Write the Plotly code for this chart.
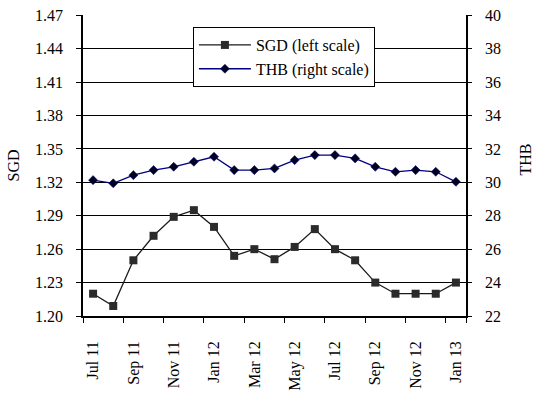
import plotly.graph_objects as go

months = ["Jul 11", "Aug 11", "Sep 11", "Oct 11", "Nov 11", "Dec 11", "Jan 12",
          "Feb 12", "Mar 12", "Apr 12", "May 12", "Jun 12", "Jul 12", "Aug 12",
          "Sep 12", "Oct 12", "Nov 12", "Dec 12", "Jan 13"]
sgd = [1.220, 1.209, 1.250, 1.272, 1.289, 1.295, 1.280, 1.254, 1.260, 1.251,
       1.262, 1.278, 1.260, 1.250, 1.230, 1.220, 1.220, 1.220, 1.230]
thb = [30.13, 29.94, 30.43, 30.73, 30.93, 31.23, 31.53, 30.73, 30.73, 30.83,
       31.33, 31.63, 31.63, 31.43, 30.93, 30.63, 30.73, 30.63, 30.03]
label_months = months[::2]
left_ticks = [1.20, 1.23, 1.26, 1.29, 1.32, 1.35, 1.38, 1.41, 1.44, 1.47]
right_ticks = [22, 24, 26, 28, 30, 32, 34, 36, 38, 40]

FONT = "Liberation Serif"
FS = 16

fig = go.Figure()
fig.add_trace(go.Scatter(
    x=months, y=sgd, name="SGD (left scale)", mode="lines+markers",
    line=dict(color="#1a1a1a", width=1.3),
    marker=dict(symbol="square", size=8, color="#2b2b2b"),
    yaxis="y"))
fig.add_trace(go.Scatter(
    x=months, y=thb, name="THB (right scale)", mode="lines+markers",
    line=dict(color="#000080", width=1.3),
    marker=dict(symbol="diamond", size=7, color="#000020",
                line=dict(color="#000080", width=0.5)),
    yaxis="y2"))

fig.update_layout(
    width=533, height=395,
    margin=dict(l=83, r=67, t=15, b=79, autoexpand=False),
    paper_bgcolor="white", plot_bgcolor="white",
    font=dict(family=FONT, size=FS, color="black"),
    showlegend=True,
    legend=dict(x=0.287, y=0.96, xanchor="left", yanchor="top",
                bgcolor="white", bordercolor="black", borderwidth=1,
                itemwidth=52,
                font=dict(family=FONT, size=FS)),
    xaxis=dict(
        type="category", tickmode="array", tickvals=label_months,
        ticktext=label_months, tickangle=-90, tickson="boundaries",
        ticks="outside", ticklen=5, tickcolor="black", tickwidth=1.3,
        showline=True, linecolor="black", linewidth=1.8,
        showgrid=False, zeroline=False, automargin=False,
        ticklabelstandoff=17, ticklabeloverflow="allow",
        range=[-0.5, len(months) - 0.5],
        tickfont=dict(family=FONT, size=FS)),
    yaxis=dict(
        range=[1.20, 1.4702], tickvals=left_ticks,
        ticktext=[f"{v:.2f}" for v in left_ticks],
        ticks="outside", ticklen=5, tickcolor="black",
        showline=True, linecolor="black", linewidth=1.8,
        showgrid=True, gridcolor="black", gridwidth=1.3, zeroline=False,
        automargin=False, ticklabelstandoff=10, ticklabeloverflow="allow",
        title=dict(text="SGD", standoff=11, font=dict(family=FONT, size=FS)),
        tickfont=dict(family=FONT, size=FS)),
    yaxis2=dict(
        range=[22, 40.013], tickvals=right_ticks, overlaying="y", side="right",
        ticks="outside", ticklen=4, tickcolor="black",
        showline=True, linecolor="black", linewidth=1.8,
        showgrid=False, zeroline=False, automargin=False,
        ticklabelstandoff=10, ticklabeloverflow="allow",
        tickfont=dict(family=FONT, size=FS)),
    annotations=[dict(
        text="THB", textangle=-90, xref="paper", yref="paper",
        x=1.154, y=0.52, xanchor="center", yanchor="middle",
        showarrow=False, font=dict(family=FONT, size=FS))],
)

fig.write_html(
    "out.html",
    config={"displayModeBar": False},
    post_script="document.body.style.margin='0';"
                "document.body.style.overflow='hidden';")
